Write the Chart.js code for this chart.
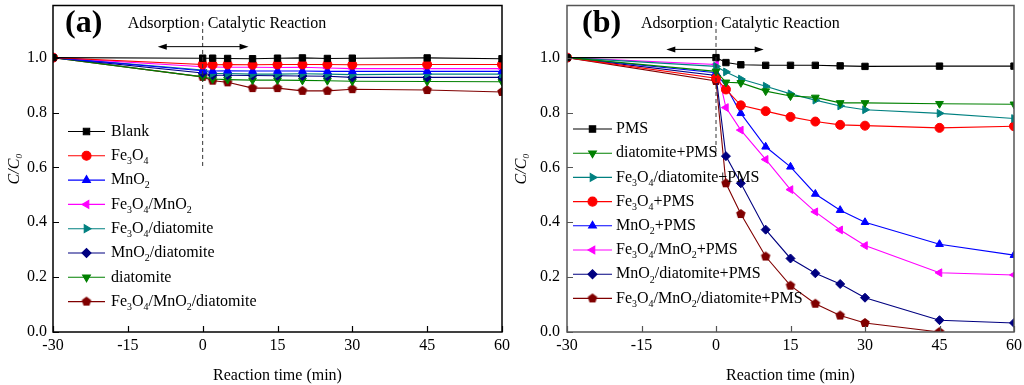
<!DOCTYPE html>
<html>
<head>
<meta charset="utf-8">
<script src="https://cdn.jsdelivr.net/npm/chart.js"></script>
<style>
  body { margin: 0; background: #fff; }
  #wrap { position: relative; width: 1024px; height: 385px; }
  canvas { position: absolute; top: 0; }
</style>
</head>
<body>
<div id="wrap">
  <canvas id="chartA" width="512" height="385" style="left:0"></canvas>
  <canvas id="chartB" width="512" height="385" style="left:512px"></canvas>
</div>
<script>
    // sampling times (min), shared by both panels
    const times = [-30, 0, 2, 5, 10, 15, 20, 25, 30, 45, 60];

    // panel (a): adsorption only
    const blank = [1.0, 0.998, 0.998, 0.997, 0.996, 0.998, 0.999, 0.997, 0.998, 0.999, 0.996];
    const fe3o4 = [1.0, 0.975, 0.974, 0.975, 0.974, 0.975, 0.975, 0.975, 0.974, 0.975, 0.975];
    const mno2 = [1.0, 0.952, 0.951, 0.952, 0.951, 0.951, 0.951, 0.950, 0.950, 0.950, 0.950];
    const fe3o4Mno2 = [1.0, 0.967, 0.966, 0.965, 0.965, 0.964, 0.965, 0.962, 0.960, 0.960, 0.960];
    const fe3o4Diat = [1.0, 0.955, 0.942, 0.942, 0.940, 0.940, 0.941, 0.940, 0.938, 0.940, 0.940];
    const mno2Diat = [1.0, 0.944, 0.936, 0.936, 0.935, 0.934, 0.933, 0.932, 0.928, 0.928, 0.928];
    const diat = [1.0, 0.930, 0.922, 0.920, 0.918, 0.918, 0.917, 0.916, 0.914, 0.913, 0.912];
    const ternary = [1.0, 0.930, 0.916, 0.910, 0.889, 0.889, 0.879, 0.879, 0.885, 0.882, 0.875];

    // panel (b): with PMS
    const pms = [1.0, 1.0, 0.982, 0.974, 0.972, 0.972, 0.972, 0.970, 0.968, 0.969, 0.969];
    const diatPms = [1.0, 0.950, 0.910, 0.908, 0.878, 0.860, 0.855, 0.835, 0.835, 0.832, 0.830];
    const fe3o4DiatPms = [1.0, 0.968, 0.948, 0.922, 0.896, 0.868, 0.845, 0.824, 0.810, 0.797, 0.778];
    const fe3o4Pms = [1.0, 0.925, 0.884, 0.826, 0.805, 0.784, 0.767, 0.755, 0.752, 0.744, 0.750];
    const mno2Pms = [1.0, 0.945, 0.895, 0.797, 0.675, 0.602, 0.503, 0.444, 0.400, 0.320, 0.280];
    const fe3o4Mno2Pms = [1.0, 0.975, 0.818, 0.736, 0.629, 0.519, 0.438, 0.372, 0.315, 0.216, 0.208];
    const mno2DiatPms = [1.0, 0.935, 0.641, 0.542, 0.373, 0.268, 0.214, 0.175, 0.125, 0.043, 0.033];
    const ternaryPms = [1.0, 0.915, 0.542, 0.430, 0.275, 0.169, 0.103, 0.060, 0.033, 0.0];

    const xTicks = [-30, -15, 0, 15, 30, 45, 60];
    const yTicks = [0, 0.2, 0.4, 0.6, 0.8, 1.0];

    const FONT = '"Liberation Serif", "Times New Roman", serif';
    Chart.defaults.font.family = FONT;
    Chart.defaults.font.size = 16;
    Chart.defaults.color = '#000';

    // pentagon marker, drawn once per colour
    function pentagon(color, r) {
        const c = document.createElement('canvas');
        const s = Math.ceil(r * 2 + 2);
        c.width = s; c.height = s;
        const g = c.getContext('2d');
        g.beginPath();
        for (let i = 0; i < 5; i++) {
            const a = -Math.PI / 2 + i * 2 * Math.PI / 5;
            const px = s / 2 + r * Math.cos(a), py = s / 2 + r * Math.sin(a);
            if (i) g.lineTo(px, py); else g.moveTo(px, py);
        }
        g.closePath();
        g.fillStyle = color;
        g.fill();
        return c;
    }

    function series(label, values, color, style, rot) {
        return {
            label: label,
            data: values.map((v, i) => ({ x: times[i], y: v })),
            borderColor: color,
            backgroundColor: color,
            pointStyle: style,
            pointRotation: rot || 0,
            pointRadius: 4.5,
            pointBorderWidth: 1,
            borderWidth: 1.1,
            tension: 0,
            clip: 0
        };
    }

    // text with unicode subscript digits drawn as small lowered digits
    const SUB = '₀₁₂₃₄₅₆₇₈₉';
    function drawSubText(ctx, text, x, y, size) {
        ctx.textBaseline = 'middle';
        ctx.textAlign = 'left';
        ctx.fillStyle = '#000';
        const runs = [];
        for (const ch of text) {
            const k = SUB.indexOf(ch);
            const sub = k >= 0;
            const c = sub ? String(k) : ch;
            if (runs.length && runs[runs.length - 1].sub === sub) runs[runs.length - 1].t += c;
            else runs.push({ sub: sub, t: c });
        }
        runs.forEach(r => {
            const fs = r.sub ? size * 0.62 : size;
            ctx.font = fs + 'px ' + FONT;
            ctx.fillText(r.t, x, r.sub ? y + size * 0.36 : y);
            x += ctx.measureText(r.t).width;
        });
    }

    // frame, inward ticks, legend, phase annotations
    const decor = {
        id: 'decor',
        afterDatasetsDraw(chart, args, o) {
            const ctx = chart.ctx;
            const { x, y } = chart.scales;
            const area = chart.chartArea;
            ctx.save();

            // inward tick marks
            ctx.strokeStyle = o.frameColor;
            ctx.lineWidth = 1.2;
            ctx.beginPath();
            xTicks.forEach(t => {
                const px = Math.round(x.getPixelForValue(t)) + 0.5;
                ctx.moveTo(px, area.bottom); ctx.lineTo(px, area.bottom - 6);
            });
            yTicks.forEach(t => {
                const py = Math.round(y.getPixelForValue(t)) + 0.5;
                ctx.moveTo(area.left, py); ctx.lineTo(area.left + 6, py);
            });
            ctx.stroke();

            // frame
            ctx.lineWidth = 1.5;
            ctx.strokeRect(area.left, area.top, area.right - area.left, area.bottom - area.top);

            // dashed divider at t = 0
            const x0 = x.getPixelForValue(0);
            ctx.strokeStyle = '#333';
            ctx.lineWidth = 1;
            ctx.setLineDash([4, 3]);
            ctx.beginPath();
            ctx.moveTo(x0, y.getPixelForValue(o.dashTop));
            ctx.lineTo(x0, y.getPixelForValue(o.dashBottom));
            ctx.stroke();
            ctx.setLineDash([]);

            // double-headed arrow
            const ay = y.getPixelForValue(o.arrowY);
            const ax1 = x.getPixelForValue(o.arrowFrom), ax2 = x.getPixelForValue(o.arrowTo);
            ctx.strokeStyle = '#000';
            ctx.beginPath(); ctx.moveTo(ax1 + 4, ay); ctx.lineTo(ax2 - 4, ay); ctx.stroke();
            ctx.fillStyle = '#000';
            ctx.beginPath(); ctx.moveTo(ax1, ay); ctx.lineTo(ax1 + 9, ay - 3); ctx.lineTo(ax1 + 9, ay + 3); ctx.fill();
            ctx.beginPath(); ctx.moveTo(ax2, ay); ctx.lineTo(ax2 - 9, ay - 3); ctx.lineTo(ax2 - 9, ay + 3); ctx.fill();

            // phase labels
            ctx.font = '16px ' + FONT;
            ctx.textBaseline = 'middle';
            ctx.textAlign = 'right';
            ctx.fillText('Adsorption', x0 - 3, 24);
            ctx.textAlign = 'left';
            ctx.fillText('Catalytic Reaction', x0 + 5, 24);

            // panel letter
            ctx.font = 'bold 32px ' + FONT;
            ctx.fillText(o.panel, area.left + o.panelDx, 24);

            // legend
            chart.data.datasets.forEach((ds, i) => {
                const ly = o.legY + i * o.legStep;
                ctx.strokeStyle = ds.borderColor;
                ctx.lineWidth = 1.1;
                ctx.beginPath(); ctx.moveTo(o.legX0, ly); ctx.lineTo(o.legX1, ly); ctx.stroke();
                ctx.fillStyle = ds.backgroundColor;
                Chart.helpers.drawPoint(ctx, {
                    pointStyle: ds.pointStyle, rotation: ds.pointRotation,
                    radius: 4.5, borderWidth: 1
                }, (o.legX0 + o.legX1) / 2, ly);
                drawSubText(ctx, ds.label, o.legTx, ly, 16);
            });
            ctx.restore();
        }
    };

    function makeChart(id, datasets, yWidth, titlePad, tickPad, deco) {
        return new Chart(document.getElementById(id).getContext('2d'), {
            type: 'line',
            data: { datasets: datasets },
            plugins: [decor],
            options: {
                responsive: false,
                animation: false,
                devicePixelRatio: 1,
                layout: { padding: { top: 2, right: 10, left: 0, bottom: 0 } },
                scales: {
                    x: {
                        type: 'linear',
                        min: -30, max: 60,
                        afterBuildTicks: s => { s.ticks = xTicks.map(v => ({ value: v })); },
                        afterFit: s => { s.height = 53; s.paddingLeft = 0; s.paddingRight = 0; },
                        grid: { display: false, drawTicks: false },
                        border: { display: false },
                        ticks: { padding: 4, font: { size: 16 } },
                        title: { display: true, text: 'Reaction time (min)', font: { size: 16 }, padding: { top: 0, bottom: 0 } }
                    },
                    y: {
                        min: 0, max: 1.19,
                        afterBuildTicks: s => { s.ticks = yTicks.map(v => ({ value: v })); },
                        afterFit: s => { s.width = yWidth; s.paddingTop = 0; s.paddingBottom = 0; },
                        grid: { display: false, drawTicks: false },
                        border: { display: false },
                        ticks: { padding: tickPad, font: { size: 16 }, callback: v => v.toFixed(1) },
                        title: { display: true, text: 'C/C₀', font: { size: 16, style: 'italic' }, padding: { top: titlePad, bottom: 0 } }
                    }
                },
                plugins: {
                    legend: { display: false },
                    tooltip: { enabled: false },
                    decor: deco
                }
            }
        });
    }

    const maroonPent = pentagon('#800000', 5);

    makeChart('chartA', [
        series('Blank', blank, '#000000', 'rect'),
        series('Fe₃O₄', fe3o4, '#ff0000', 'circle'),
        series('MnO₂', mno2, '#0000ff', 'triangle'),
        series('Fe₃O₄/MnO₂', fe3o4Mno2, '#ff00ff', 'triangle', 270),
        series('Fe₃O₄/diatomite', fe3o4Diat, '#008080', 'triangle', 90),
        series('MnO₂/diatomite', mno2Diat, '#000080', 'rectRot'),
        series('diatomite', diat, '#008000', 'triangle', 180),
        series('Fe₃O₄/MnO₂/diatomite', ternary, '#800000', maroonPent)
    ], 53, 5, 6, {
        frameColor: '#000', panel: '(a)', panelDx: 12,
        dashTop: 1.13, dashBottom: 0.6, arrowY: 1.04, arrowFrom: -9, arrowTo: 9.2,
        legX0: 68, legX1: 105, legTx: 111, legY: 131.5, legStep: 24.3
    });

    makeChart('chartB', [
        series('PMS', pms, '#000000', 'rect'),
        series('diatomite+PMS', diatPms, '#008000', 'triangle', 180),
        series('Fe₃O₄/diatomite+PMS', fe3o4DiatPms, '#008080', 'triangle', 90),
        series('Fe₃O₄+PMS', fe3o4Pms, '#ff0000', 'circle'),
        series('MnO₂+PMS', mno2Pms, '#0000ff', 'triangle'),
        series('Fe₃O₄/MnO₂+PMS', fe3o4Mno2Pms, '#ff00ff', 'triangle', 270),
        series('MnO₂/diatomite+PMS', mno2DiatPms, '#000080', 'rectRot'),
        series('Fe₃O₄/MnO₂/diatomite+PMS', ternaryPms, '#800000', maroonPent)
    ], 55, 0, 7, {
        frameColor: '#555', panel: '(b)', panelDx: 15,
        dashTop: 1.13, dashBottom: 0.64, arrowY: 1.03, arrowFrom: -10, arrowTo: 9.6,
        legX0: 61, legX1: 100, legTx: 104, legY: 129, legStep: 24.2
    });
</script>
</body>
</html>
